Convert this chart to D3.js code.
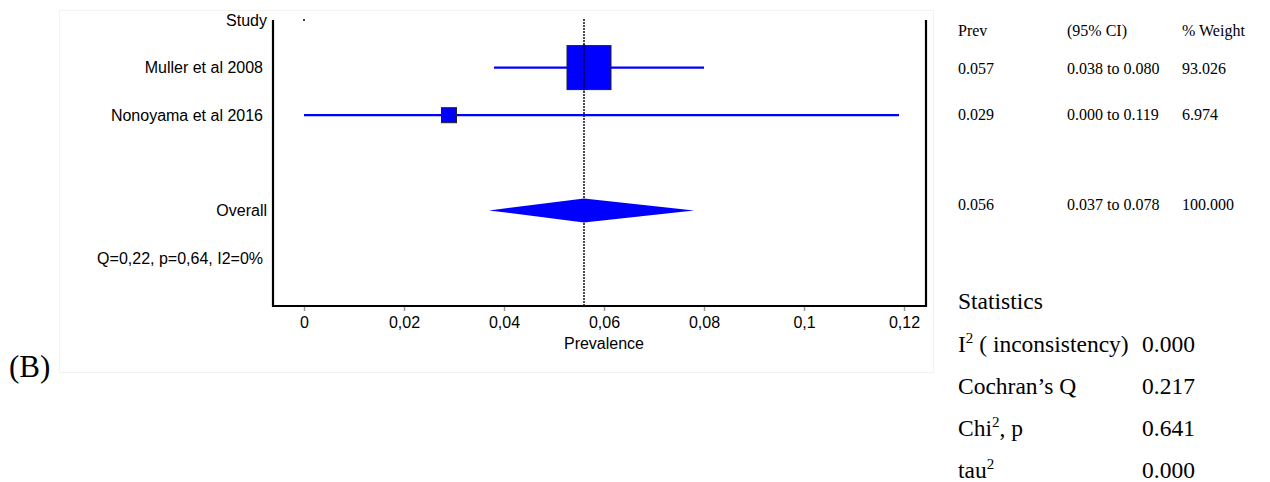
<!DOCTYPE html>
<html><head><meta charset="utf-8">
<script src="https://cdn.jsdelivr.net/npm/d3@7"></script>
<style>body{margin:0;background:#fff}svg{display:block}</style>
</head><body>
<script>
const studies = ["Muller et al 2008", "Nonoyama et al 2016"];
const prev = [0.057, 0.029];
const ciLow = [0.038, 0.000];
const ciHigh = [0.080, 0.119];
const weights = [93.026, 6.974];
const overall = {est: 0.056, lo: 0.037, hi: 0.078};
const hetText = "Q=0,22, p=0,64, I2=0%";
const xTicks = [0, 0.02, 0.04, 0.06, 0.08, 0.1, 0.12];
const tableHeader = ["Prev", "(95% CI)", "% Weight"];
const tablePrev = ["0.057", "0.029", "0.056"];
const tableCI = ["0.038 to 0.080", "0.000 to 0.119", "0.037 to 0.078"];
const tableWeight = ["93.026", "6.974", "100.000"];
const statLabels = ["I2", "Cochran\u2019s Q", "Chi2", "tau2"];
const statValues = ["0.000", "0.217", "0.641", "0.000"];

(function () {
const W = 1270, H = 482;
const svg = d3.select("body").append("svg").attr("width", W).attr("height", H);

svg.append("rect").attr("x", 59.5).attr("y", 10.5).attr("width", 874).attr("height", 362)
  .attr("fill", "none").attr("stroke", "#f3f3f3").attr("stroke-width", 1);

const x = d3.scaleLinear().domain([0, 0.12]).range([304, 904]);
const rows = ["Study", ...studies, "blank", "Overall", "het"];
const y = d3.scalePoint().domain(rows).range([20, 258]);
const size = d3.scaleLinear().domain([d3.min(weights), d3.max(weights)]).range([15, 44]);

const pL = 273, pR = 926, pT = 20, pB = 306;
const sans = "Liberation Sans, Arial, sans-serif";
const serif = "Liberation Serif, Times New Roman, serif";

const axis = d3.axisBottom(x).tickValues(xTicks).tickSize(5).tickSizeOuter(0)
  .tickFormat(d => String(d).replace(".", ","));
const gx = svg.append("g").attr("transform", `translate(0,${pB})`).call(axis);
gx.select(".domain").remove();
gx.selectAll(".tick line").attr("stroke", "#999").attr("stroke-width", 1.5);
gx.selectAll(".tick text").attr("font-family", sans).attr("font-size", 16).attr("fill", "#000").attr("dy", "0.85em");
svg.append("text").attr("x", x(0.06)).attr("y", 349).attr("text-anchor", "middle")
  .attr("font-family", sans).attr("font-size", 16).text("Prevalence");

svg.append("path").attr("d", `M${pL},${pT}V${pB}H${pR}V${pT}`)
  .attr("fill", "none").attr("stroke", "#000").attr("stroke-width", 2.2);

svg.append("line").attr("x1", x(overall.est)).attr("x2", x(overall.est)).attr("y1", pT - 1).attr("y2", pB)
  .attr("stroke", "#000").attr("stroke-width", 1.4).attr("stroke-dasharray", "2,1");

svg.append("circle").attr("cx", x(0)).attr("cy", y("Study")).attr("r", 1).attr("fill", "#000");

const lab = svg.append("g").attr("font-family", sans).attr("font-size", 16).attr("fill", "#000");
lab.append("text").attr("x", 267).attr("y", y("Study")).attr("dy", "0.35em").attr("text-anchor", "end").text("Study");
studies.forEach(s => lab.append("text").attr("x", 263).attr("y", y(s)).attr("dy", "0.35em").attr("text-anchor", "end").text(s));
lab.append("text").attr("x", 267).attr("y", y("Overall")).attr("dy", "0.35em").attr("text-anchor", "end").text("Overall");
lab.append("text").attr("x", 263).attr("y", y("het")).attr("dy", "0.35em").attr("text-anchor", "end").text(hetText);

studies.forEach((s, i) => {
  svg.append("line").attr("x1", x(ciLow[i])).attr("x2", x(ciHigh[i])).attr("y1", y(s)).attr("y2", y(s))
    .attr("stroke", "#0000ff").attr("stroke-width", 2.2);
});
studies.forEach((s, i) => {
  const sz = size(weights[i]);
  svg.append("rect").attr("x", x(prev[i]) - sz / 2).attr("y", y(s) - sz / 2).attr("width", sz).attr("height", sz)
    .attr("fill", "#0000ff").attr("stroke", "#222").attr("stroke-width", 1);
});
svg.append("line").attr("x1", x(overall.est)).attr("x2", x(overall.est)).attr("y1", y(studies[0]) - 23).attr("y2", y(studies[0]) + 23)
  .attr("stroke", "#000").attr("stroke-width", 1.4).attr("stroke-dasharray", "2,1");

const yo = y("Overall");
svg.append("path").attr("d", `M${x(overall.lo)},${yo}L${x(overall.est)},${yo - 12}L${x(overall.hi)},${yo}L${x(overall.est)},${yo + 12}Z`)
  .attr("fill", "#0000ff");

const tx = [958, 1067, 1182];
const ty = d3.scaleLinear().domain([0, 1]).range([68, 114]);
const tab = svg.append("g").attr("font-family", serif).attr("font-size", 16).attr("fill", "#000");
tableHeader.forEach((h, j) => tab.append("text").attr("x", tx[j]).attr("y", 30).attr("dy", "0.35em").text(h));
const rowY = [ty(0), ty(1), 204];
[tablePrev, tableCI, tableWeight].forEach((col, j) => col.forEach((v, i) =>
  tab.append("text").attr("x", tx[j]).attr("y", rowY[i]).attr("dy", "0.35em").text(v)));

const st = svg.append("g").attr("font-family", serif).attr("font-size", 23.5).attr("fill", "#000");
st.append("text").attr("x", 958).attr("y", 301).attr("dy", "0.35em").text("Statistics");
const sy = d3.scaleLinear().domain([0, 3]).range([344, 470]);
const withSup = (t, base, sup, rest) => {
  t.append("tspan").text(base);
  t.append("tspan").attr("font-size", 15).attr("dy", -9).text(sup);
  if (rest) t.append("tspan").attr("dy", 9).text(rest);
};
statLabels.forEach((l, i) => {
  const t = st.append("text").attr("x", 958).attr("y", sy(i)).attr("dy", "0.35em");
  if (i === 0) withSup(t, "I", "2", " ( inconsistency)");
  else if (i === 2) withSup(t, "Chi", "2", ", p");
  else if (i === 3) withSup(t, "tau", "2", null);
  else t.text(l);
  st.append("text").attr("x", 1142).attr("y", sy(i)).attr("dy", "0.35em").text(statValues[i]);
});

svg.append("text").attr("x", 9).attr("y", 366).attr("dy", "0.35em").attr("font-family", serif).attr("font-size", 31).text("(B)");
})();
</script>
</body></html>
